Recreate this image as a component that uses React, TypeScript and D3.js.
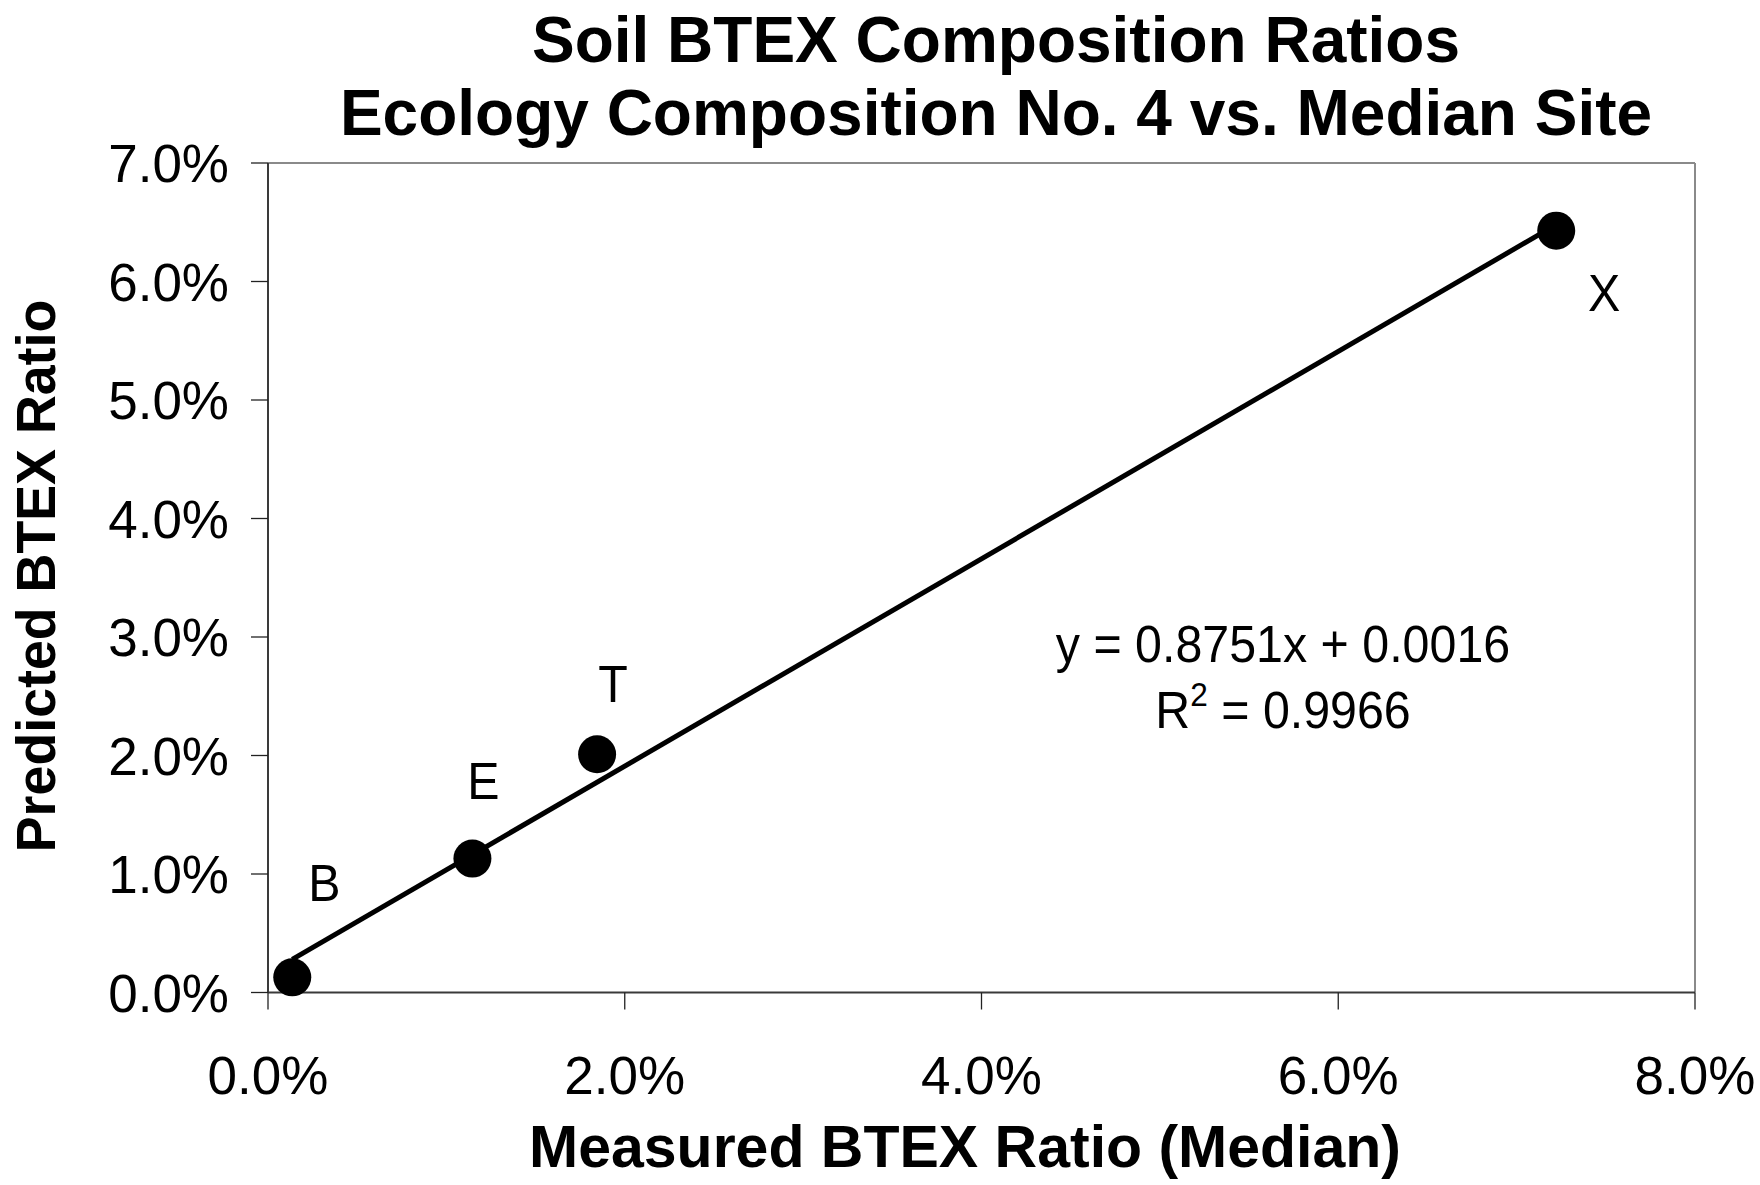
import React from "react";
import * as d3 from "d3";

// measured vs predicted BTEX ratios (fractions)
const labels = ["B", "E", "T", "X"];
const measured = [0.00136, 0.01146, 0.01845, 0.07222];
const predicted = [0.00128, 0.0113, 0.0201, 0.06429];

const slope = 0.8751;
const intercept = 0.0016;
const eqText = "y = 0.8751x + 0.0016";
const r2Text = "= 0.9966";

const xTicks = [0, 0.02, 0.04, 0.06, 0.08];
const yTicks = [0, 0.01, 0.02, 0.03, 0.04, 0.05, 0.06, 0.07];

const titleLines = ["Soil BTEX Composition Ratios", "Ecology Composition No. 4 vs. Median Site"];
const xTitle = "Measured BTEX Ratio (Median)";
const yTitle = "Predicted BTEX Ratio";

// data label offsets (px) like the excel labels
const labelOffsets = [
  [32, -76],
  [11, -60],
  [16, -52],
  [48, 80],
];

const width = 1760;
const height = 1185;
const plot = { left: 268, right: 1695, top: 163, bottom: 992.5 };
const font = "'Liberation Sans', Arial, sans-serif";
const SX = 0.93; // text in the original is a bit taller than wide

const App = () => {
  const x = d3.scaleLinear().domain([0, 0.08]).range([plot.left, plot.right]);
  const y = d3.scaleLinear().domain([0, 0.07]).range([plot.bottom, plot.top]);
  const fmt = d3.format(".1%");

  const x0 = d3.min(measured)!;
  const x1 = d3.max(measured)!;
  const trend = d3.line<number>()
    .x(d => x(d))
    .y(d => y(slope * d + intercept));

  const stretched = (tx: number, ty: number, sx = SX) =>
    `translate(${tx},${ty}) scale(${sx},1)`;

  return (
    <div style={{ position: "absolute", left: 0, top: 0 }}>
      <svg width={width} height={height} style={{ display: "block", background: "#fff" }} fontFamily={font}>
        {/* title */}
        {titleLines.map((t, i) => (
          <text key={t} transform={stretched(996, 62 + i * 73, 1)} textAnchor="middle"
            fontSize={64} fontWeight="bold">{t}</text>
        ))}

        {/* frame: gray top/right, dark left/bottom */}
        <line x1={plot.left} x2={plot.right} y1={plot.top} y2={plot.top} stroke="#8a8a8a" strokeWidth={2} />
        <line x1={plot.right} x2={plot.right} y1={plot.top} y2={plot.bottom} stroke="#8a8a8a" strokeWidth={2} />
        <line x1={plot.left} x2={plot.left} y1={plot.top} y2={plot.bottom} stroke="#3a3a3a" strokeWidth={2} />
        <line x1={plot.left} x2={plot.right} y1={plot.bottom} y2={plot.bottom} stroke="#3a3a3a" strokeWidth={2} />

        {/* y axis */}
        {yTicks.map(t => (
          <g key={t}>
            <line x1={plot.left - 17} x2={plot.left} y1={y(t)} y2={y(t)} stroke="#222" strokeWidth={1.3} />
            <text transform={stretched(229, y(t) + 19, 1)} textAnchor="end" fontSize={53}>{fmt(t)}</text>
          </g>
        ))}

        {/* x axis */}
        {xTicks.map(t => (
          <g key={t}>
            <line x1={x(t)} x2={x(t)} y1={plot.bottom} y2={plot.bottom + 17} stroke="#222" strokeWidth={1.3} />
            <text transform={stretched(x(t), 1094, 1)} textAnchor="middle" fontSize={53}>{fmt(t)}</text>
          </g>
        ))}

        {/* axis titles */}
        <text transform={`translate(965,1167)`} textAnchor="middle"
          fontSize={59} fontWeight="bold">{xTitle}</text>
        <text transform={`translate(55,${576}) rotate(-90) scale(0.96,1)`} textAnchor="middle"
          fontSize={56} fontWeight="bold">{yTitle}</text>

        {/* trend line */}
        <path d={trend([x0, x1]) ?? ""} fill="none" stroke="#000" strokeWidth={5} />

        {/* points */}
        {measured.map((m, i) => (
          <circle key={labels[i]} cx={x(m)} cy={y(predicted[i])} r={19} fill="#000" />
        ))}
        {measured.map((m, i) => (
          <text key={"l" + labels[i]}
            transform={stretched(x(m) + labelOffsets[i][0], y(predicted[i]) + labelOffsets[i][1])}
            textAnchor="middle" fontSize={52}>{labels[i]}</text>
        ))}

        {/* regression equation */}
        <text transform={stretched(1283, 662)} textAnchor="middle" fontSize={52}>{eqText}</text>
        <text transform={stretched(1283, 728)} textAnchor="middle" fontSize={52}>
          R<tspan fontSize={34} dy={-22}>2</tspan><tspan dy={22}>{" " + r2Text}</tspan>
        </text>
      </svg>
    </div>
  );
};

export default App;
